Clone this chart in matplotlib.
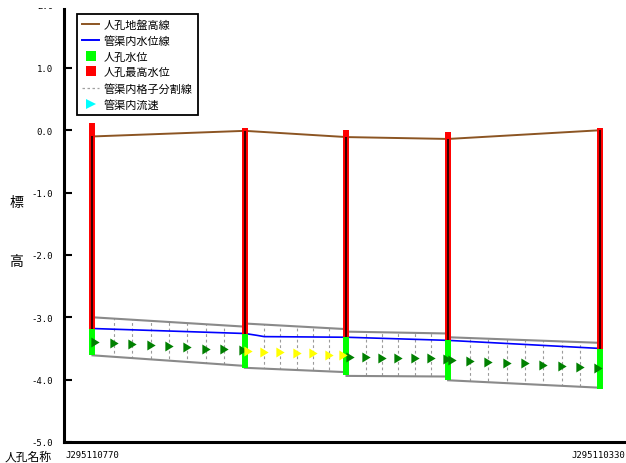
# 管渠縦断図（人孔・管渠内水位・流速）の再現
import matplotlib
matplotlib.use("Agg")
import matplotlib.pyplot as plt
from matplotlib.lines import Line2D
from matplotlib.patches import Polygon
from matplotlib.transforms import Bbox, TransformedBbox

# 人孔（追加距離と標高）
mh_x = [0, 150, 250, 350, 500]
mh_names = ["J295110770", "J295110330"]
ground = [-0.10, -0.01, -0.11, -0.14, 0.00]
max_wl = [0.12, 0.04, 0.01, -0.03, 0.04]
mh_wl = [-3.18, -3.26, -3.31, -3.37, -3.51]
mh_bottom = [-3.61, -3.81, -3.93, -4.01, -4.15]

# 管渠の上端・下端（上流端, 下流端）
pipe_top = [(-3.00, -3.15), (-3.10, -3.19), (-3.23, -3.26), (-3.32, -3.41)]
pipe_bot = [(-3.61, -3.78), (-3.81, -3.88), (-3.94, -3.95), (-4.01, -4.13)]

# 管渠内水位線
wl_x = [0, 150, 162, 169, 250, 350, 500]
wl_y = [-3.18, -3.26, -3.29, -3.31, -3.32, -3.37, -3.50]

# 管渠内格子分割線の位置
grid_x = [21, 39, 57.5, 75.5, 93.5, 111.5, 129.5,
          169, 184.5, 201.5, 217, 233,
          269, 284.5, 301, 317, 333,
          371.5, 389.5, 407.5, 425.5, 443.5, 462, 480]

# 管渠内流速（緑）
flow_x = [2.5, 21, 39, 57.5, 75.5, 93.5, 111.5, 129.5, 148,
          253.5, 269, 284.5, 301, 317, 333, 348.5,
          353.5, 371.5, 389.5, 407.5, 425.5, 443.5, 462, 480, 498]
flow_y = [-3.39, -3.41, -3.43, -3.45, -3.46, -3.48, -3.51, -3.51, -3.52,
          -3.64, -3.64, -3.65, -3.65, -3.66, -3.66, -3.67,
          -3.69, -3.70, -3.71, -3.73, -3.74, -3.77, -3.78, -3.79, -3.81]
# 管渠内流速（黄）
slow_x = [153, 168.5, 184.5, 201, 217, 232.5, 246.5]
slow_y = [-3.54, -3.56, -3.56, -3.58, -3.58, -3.60, -3.60]

yticks = [1.0, 0.0, -1.0, -2.0, -3.0, -4.0, -5.0]

brown = "#8c5523"
tri = [(-0.83, -1), (0.83, 0), (-0.83, 1)]
jp = ["Noto Sans CJK JP", "DejaVu Sans"]
mono = "DejaVu Sans Mono"


def plot():
    fig = plt.figure(figsize=(6.26, 4.64), dpi=100)
    ax = fig.add_axes([64 / 626, 21 / 464, 562 / 626, 433 / 464])
    ax.set_xlim(-28.05, 525.1)
    ax.set_ylim(-5.0, 1.944)

    # 地盤高
    ax.plot(mh_x, ground, color=brown, lw=1.4, zorder=2)

    # 管渠
    for i in range(len(pipe_top)):
        x0, x1 = mh_x[i], mh_x[i + 1]
        ax.plot([x0, x1], pipe_top[i], color="#8a8a8a", lw=1.5, zorder=2)
        ax.plot([x0, x1], pipe_bot[i], color="#8a8a8a", lw=1.5, zorder=2)
        poly = Polygon([(x0, pipe_top[i][0]), (x1, pipe_top[i][1]),
                        (x1, pipe_bot[i][1]), (x0, pipe_bot[i][0])],
                       closed=True, fill=False, edgecolor="none")
        ax.add_patch(poly)
        gl = ax.vlines(grid_x, -5, 2, colors="#9a9a9a", lw=0.8,
                       linestyles=(0, (2.5, 2.5)), zorder=1)
        gl.set_clip_path(poly)

    # 水位線
    ax.plot(wl_x, wl_y, color="#0000ff", lw=1.2, zorder=2)

    # 人孔
    ax.vlines(mh_x, mh_wl, max_wl, colors="#ff0000", lw=4.3, zorder=3)
    ax.vlines(mh_x, mh_bottom, ground, colors="black", lw=1.1, zorder=4)
    ax.vlines(mh_x, mh_bottom, mh_wl, colors="#00ff00", lw=4.3, zorder=5)

    # 流速
    ax.plot(flow_x, flow_y, ls="none", marker=tri, ms=7.2,
            color="#008000", mew=0, zorder=6)
    ax.plot(slow_x, slow_y, ls="none", marker=tri, ms=7.2,
            color="#ffff00", mew=0, zorder=6)

    # 軸
    for s in ["top", "right"]:
        ax.spines[s].set_visible(False)
    ax.spines["left"].set_linewidth(2.2)
    ax.spines["bottom"].set_linewidth(2.2)
    ax.set_xticks([])
    ax.set_yticks(yticks)
    ax.set_yticklabels(["%.1f" % v for v in yticks], fontfamily=mono, fontsize=6.5)
    ax.tick_params(axis="y", direction="in", length=5.8, width=1.5, pad=8)

    # 上端で切れている 2.0
    t = ax.text(-11 / 562, 2.0, "2.0", transform=ax.get_yaxis_transform(),
                ha="right", va="center", fontfamily=mono, fontsize=6.5,
                clip_on=False)
    t.set_clip_on(True)
    t.set_clip_path(None)
    t.set_clip_box(TransformedBbox(Bbox([[0, 0], [6.26, 4.55]]), fig.dpi_scale_trans))

    fig.text(16.5 / 626, 1 - 203 / 464, "標", family=jp, fontsize=10,
             ha="center", va="center")
    fig.text(16.5 / 626, 1 - 262.5 / 464, "高", family=jp, fontsize=10,
             ha="center", va="center")
    fig.text(5 / 626, 1 - 457 / 464, "人孔名称", family=jp, fontsize=8.5,
             ha="left", va="center")
    fig.text(65 / 626, 1 - 456 / 464, mh_names[0], family=mono, fontsize=6.5,
             ha="left", va="center")
    fig.text(625 / 626, 1 - 456 / 464, mh_names[1], family=mono, fontsize=6.5,
             ha="right", va="center")

    # 凡例
    handles = [
        Line2D([], [], color=brown, lw=1.4),
        Line2D([], [], color="#0000ff", lw=1.4),
        Line2D([], [], ls="none", marker="s", ms=7.5, color="#00ff00", mew=0),
        Line2D([], [], ls="none", marker="s", ms=7.5, color="#ff0000", mew=0),
        Line2D([], [], color="#a0a0a0", lw=0.9, ls=(0, (2, 2))),
        Line2D([], [], ls="none", marker=">", ms=7.5, color="#00ffff", mew=0),
    ]
    labels = ["人孔地盤高線", "管渠内水位線", "人孔水位", "人孔最高水位",
              "管渠内格子分割線", "管渠内流速"]
    leg = fig.legend(handles, labels, loc="upper left",
                     bbox_to_anchor=(76.7 / 626, 1 - 15 / 464),
                     prop={"family": jp, "size": 8},
                     frameon=True, fancybox=False, framealpha=1,
                     edgecolor="black", handlelength=1.6, handletextpad=0.4,
                     labelspacing=0.5, borderpad=0.45, borderaxespad=0)
    leg.get_frame().set_linewidth(1.3)

    fig.savefig("out.png", dpi=100, facecolor="white")


if __name__ == "__main__":
    plot()
